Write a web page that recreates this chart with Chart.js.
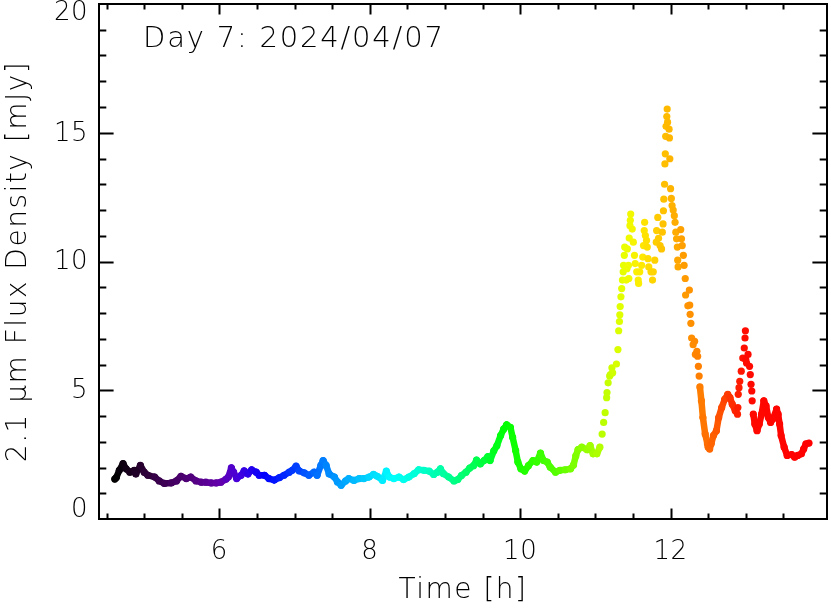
<!DOCTYPE html>
<html>
<head>
<meta charset="utf-8">
<script src="https://cdn.jsdelivr.net/npm/chart.js@4.4.1/dist/chart.umd.min.js"></script>
<style>
  html, body { margin: 0; padding: 0; background: #fff; }
  #wrap { width: 831px; height: 608px; }
</style>
</head>
<body>
<div id="wrap"><canvas id="chart"></canvas></div>
<script>
// time [h] and 2.1 micron flux density [mJy]
const times = [
  4.61, 4.63, 4.67, 4.72, 4.76, 4.81, 4.87, 4.89, 4.95, 5.00, 5.05, 5.14, 5.20, 5.27, 5.36, 5.43,
  5.49, 5.56, 5.62, 5.69, 5.76, 5.82, 5.89, 5.96, 6.02, 6.09, 6.12, 6.16, 6.19, 6.23, 6.29, 6.33,
  6.38, 6.43, 6.49, 6.53, 6.60, 6.66, 6.73, 6.80, 6.86, 6.93, 6.97, 7.02, 7.06, 7.13, 7.19, 7.26,
  7.30, 7.35, 7.38, 7.42, 7.46, 7.53, 7.57, 7.62, 7.68, 7.72, 7.79, 7.86, 7.92, 7.99, 8.05, 8.10,
  8.17, 8.22, 8.26, 8.32, 8.39, 8.45, 8.52, 8.59, 8.65, 8.72, 8.79, 8.85, 8.90, 8.94, 8.98, 9.05,
  9.12, 9.17, 9.22, 9.28, 9.33, 9.38, 9.42, 9.47, 9.52, 9.57, 9.60, 9.65, 9.69, 9.74, 9.78, 9.82,
  9.87, 9.90, 9.94, 9.97, 10.01, 10.06, 10.11, 10.17, 10.22, 10.27, 10.31, 10.36, 10.40, 10.47, 10.53, 10.60,
  10.67, 10.71, 10.74, 10.77, 10.82, 10.89, 10.93, 10.97, 11.02, 11.06, 11.09, 11.11, 11.13, 11.15, 11.155, 11.17,
  11.19, 11.20, 11.22, 11.23, 11.28, 11.30, 11.31, 11.32, 11.325, 11.33, 11.34, 11.35, 11.36, 11.37, 11.375, 11.385,
  11.39, 11.41, 11.42, 11.425, 11.44, 11.445, 11.45, 11.46, 11.465, 11.47, 11.49, 11.505, 11.52, 11.53, 11.55, 11.57,
  11.575, 11.59, 11.615, 11.63, 11.64, 11.65, 11.655, 11.665, 11.68, 11.69, 11.70, 11.71, 11.74, 11.76, 11.77, 11.79,
  11.81, 11.815, 11.83, 11.84, 11.86, 11.88, 11.89, 11.90, 11.905, 11.91, 11.92, 11.925, 11.93, 11.935, 11.94, 11.95,
  11.955, 11.96, 11.98, 11.985, 11.99, 12.00, 12.01, 12.02, 12.035, 12.05, 12.06, 12.07, 12.08, 12.09, 12.095, 12.10,
  12.135, 12.145, 12.155, 12.17, 12.18, 12.195, 12.20, 12.23, 12.25, 12.255, 12.26, 12.27, 12.28, 12.30, 12.32, 12.33,
  12.35, 12.36, 12.37, 12.38, 12.39, 12.41, 12.43, 12.46, 12.49, 12.50, 12.52, 12.54, 12.57, 12.61, 12.64, 12.68,
  12.72, 12.76, 12.79, 12.82, 12.86, 12.89, 12.895, 12.90, 12.91, 12.92, 12.94, 12.96, 12.98, 12.99, 12.995, 13.00,
  13.01, 13.03, 13.05, 13.06, 13.07, 13.08, 13.085, 13.10, 13.12, 13.15, 13.18, 13.21, 13.24, 13.27, 13.30, 13.33,
  13.36, 13.41, 13.43, 13.45, 13.47, 13.51, 13.55, 13.61, 13.65, 13.69, 13.74, 13.77, 13.80, 13.84
];
const flux = [
  1.55, 1.61, 1.89, 2.15, 1.95, 1.82, 1.89, 1.75, 2.08, 1.82, 1.70, 1.63, 1.48, 1.38, 1.40, 1.48,
  1.66, 1.57, 1.63, 1.48, 1.43, 1.43, 1.40, 1.40, 1.43, 1.55, 1.63, 1.99, 1.82, 1.57, 1.70, 1.87,
  1.75, 1.91, 1.82, 1.70, 1.70, 1.57, 1.51, 1.61, 1.70, 1.82, 1.89, 2.05, 1.87, 1.79, 1.70, 1.82,
  1.70, 2.08, 2.27, 2.08, 1.75, 1.63, 1.44, 1.31, 1.48, 1.57, 1.50, 1.57, 1.57, 1.63, 1.73, 1.66,
  1.50, 1.86, 1.63, 1.57, 1.63, 1.53, 1.63, 1.76, 1.91, 1.89, 1.86, 1.73, 1.82, 1.95, 1.76, 1.63,
  1.48, 1.53, 1.69, 1.82, 1.98, 2.07, 2.29, 2.14, 2.27, 2.42, 2.27, 2.65, 2.84, 3.24, 3.49, 3.66,
  3.56, 3.17, 2.66, 2.21, 1.95, 1.86, 2.07, 2.27, 2.21, 2.56, 2.27, 2.21, 2.01, 1.82, 1.89, 1.91,
  1.95, 2.10, 2.45, 2.70, 2.79, 2.69, 2.85, 2.53, 2.53, 2.79, 3.30, 3.75, 4.13, 4.71, 4.91, 5.29,
  5.55, 5.61, 5.87, 5.68, 6.02, 6.58, 7.31, 7.67, 7.93, 8.25, 8.63, 8.95, 9.28, 9.60, 9.85, 10.24,
  10.56, 9.28, 9.72, 10.49, 9.85, 9.34, 10.91, 11.39, 11.60, 11.84, 11.26, 10.75, 10.24, 9.92, 9.60, 9.28,
  9.15, 9.60, 9.85, 10.17, 10.62, 11.20, 11.52, 11.01, 10.82, 10.56, 10.11, 9.79, 9.60, 9.28, 9.60, 10.05,
  10.75, 11.20, 11.71, 10.90, 10.62, 10.49, 11.14, 11.46, 11.97, 12.42, 13.00, 13.79, 14.18, 14.86, 15.25, 15.63,
  15.92, 15.41, 15.14, 14.80, 13.99, 12.83, 12.45, 12.17, 12.00, 11.78, 11.52, 11.14, 10.88, 10.56, 10.05, 9.79,
  11.24, 10.88, 10.62, 10.24, 9.85, 9.34, 8.70, 8.28, 8.89, 8.31, 7.95, 7.60, 7.03, 6.77, 6.90, 6.39,
  6.51, 6.32, 5.93, 5.55, 5.13, 4.59, 3.94, 3.30, 2.92, 2.79, 2.72, 2.92, 3.24, 3.43, 3.94, 4.33,
  4.65, 4.84, 4.71, 4.46, 4.20, 4.07, 4.33, 4.84, 5.10, 5.35, 5.74, 6.25, 6.64, 7.03, 7.31, 6.19,
  6.06, 6.39, 5.93, 5.61, 5.23, 4.97, 4.59, 4.07, 3.69, 3.43, 3.69, 4.07, 4.59, 4.39, 3.94, 3.75,
  3.88, 4.27, 4.07, 3.69, 3.24, 2.79, 2.47, 2.50, 2.40, 2.47, 2.53, 2.72, 2.92, 2.95
];

const xTickLabels = [6, 8, 10, 12];
const yTickLabels = [0, 5, 10, 15, 20];
const dayLabel = 'Day 7: 2024/04/07';
const xTitle = 'Time [h]';
const yTitle = '2.1 \u03bcm Flux Density [mJy]';

// rainbow colour table, keyed on time
const colourStops = [
  [4.6, 0, 0, 0], [5.0, 45, 0, 55], [5.5, 75, 0, 110], [6.0, 100, 0, 170], [6.25, 70, 0, 220],
  [6.6, 0, 0, 255], [7.0, 0, 60, 255], [7.4, 0, 130, 255], [7.9, 0, 200, 255], [8.3, 0, 255, 255],
  [8.8, 0, 255, 190], [9.2, 0, 255, 120], [9.8, 0, 255, 0], [10.5, 90, 255, 0], [11.0, 170, 255, 0],
  [11.4, 235, 255, 0], [11.6, 255, 235, 0], [12.0, 255, 180, 0], [12.3, 255, 140, 0], [12.6, 255, 90, 0],
  [13.0, 255, 10, 0], [13.9, 255, 0, 0]
];

// time windows where the samples show as loose dots, not a solid trace
const dotWindows = [[11.08, 12.385], [12.885, 13.09]];

function colourAt(t) {
  if (t <= colourStops[0][0]) return 'rgb(0,0,0)';
  for (let i = 1; i < colourStops.length; i++) {
    const a = colourStops[i - 1], b = colourStops[i];
    if (t <= b[0]) {
      const f = (t - a[0]) / (b[0] - a[0]);
      const c = [1, 2, 3].map(k => Math.round(a[k] + f * (b[k] - a[k])));
      return 'rgb(' + c.join(',') + ')';
    }
  }
  return 'rgb(255,0,0)';
}

const FONT = '"DejaVu Sans", sans-serif';

const axesPlugin = {
  id: 'idlAxes',
  beforeDraw(chart) {
    chart.ctx.letterSpacing = '1.5px';
  },
  afterDraw(chart) {
    const ctx = chart.ctx;
    const { left, right, top, bottom } = chart.chartArea;
    const xs = chart.scales.x, ys = chart.scales.y;
    ctx.save();
    ctx.strokeStyle = '#000';
    ctx.lineWidth = 2;
    ctx.strokeRect(left, top, right - left, bottom - top);

    ctx.beginPath();
    for (let v = 4.5; v < 13.9; v += 0.5) {
      const px = Math.round(xs.getPixelForValue(v)) + 0.5;
      const len = xTickLabels.includes(v) ? 10.5 : 5.5;
      ctx.moveTo(px, bottom); ctx.lineTo(px, bottom - len);
      ctx.moveTo(px, top); ctx.lineTo(px, top + len);
    }
    for (let v = 1; v < 20; v++) {
      const py = Math.round(ys.getPixelForValue(v)) + 0.5;
      const len = yTickLabels.includes(v) ? 14.6 : 7.3;
      ctx.moveTo(left, py); ctx.lineTo(left + len, py);
      ctx.moveTo(right, py); ctx.lineTo(right - len, py);
    }
    ctx.stroke();

    ctx.fillStyle = '#000';
    ctx.letterSpacing = '0.5px';
    ctx.font = '300 26px ' + FONT;
    ctx.textAlign = 'center';
    ctx.textBaseline = 'middle';
    xTickLabels.forEach(v => ctx.fillText(String(v), xs.getPixelForValue(v), 552));
    ctx.textAlign = 'right';
    yTickLabels.forEach(v => {
      const py = Math.min(Math.max(ys.getPixelForValue(v) + 1, 13), 510);
      ctx.fillText(String(v), 88, py);
    });

    ctx.letterSpacing = '1.8px';
    ctx.font = '300 29px ' + FONT;
    ctx.textAlign = 'left';
    ctx.textBaseline = 'alphabetic';
    ctx.fillText(dayLabel, 143, 47);
    ctx.restore();
  }
};

function inDots(t0, t1) {
  return dotWindows.some(w => t1 > w[0] && t0 < w[1]);
}

new Chart(document.getElementById('chart'), {
  type: 'scatter',
  data: {
    datasets: [{
      data: times.map((t, i) => ({ x: t, y: flux[i] })),
      showLine: true,
      borderWidth: 6.5,
      borderCapStyle: 'round',
      borderJoinStyle: 'round',
      pointRadius: 3.6,
      pointBorderWidth: 0,
      pointBackgroundColor: ctx => colourAt(times[ctx.dataIndex]),
      segment: {
        borderColor: ctx => {
          const t0 = times[ctx.p0DataIndex], t1 = times[ctx.p1DataIndex];
          if (inDots(t0, t1)) return 'rgba(0,0,0,0)';
          const d = Math.hypot(ctx.p1.x - ctx.p0.x, ctx.p1.y - ctx.p0.y);
          if (d > 20) return 'rgba(0,0,0,0)';
          return colourAt(t0);
        }
      }
    }]
  },
  options: {
    responsive: true,
    maintainAspectRatio: false,
    animation: false,
    layout: { padding: { top: 1, right: 2, left: 0, bottom: 0 } },
    plugins: { legend: { display: false }, tooltip: { enabled: false } },
    scales: {
      x: {
        type: 'linear',
        min: 4.4,
        max: 14.08,
        grid: { display: false },
        border: { display: false },
        ticks: { display: false },
        title: {
          display: true, text: xTitle, color: '#000',
          font: { family: FONT, size: 28, weight: 300 },
          padding: { top: 2, bottom: 0 }
        },
        afterFit: s => { s.height = 89; }
      },
      y: {
        min: 0,
        max: 20,
        grid: { display: false },
        border: { display: false },
        ticks: { display: false },
        title: {
          display: true, text: yTitle, color: '#000',
          font: { family: FONT, size: 28, weight: 300 },
          padding: { top: 2, bottom: 0 }
        },
        afterFit: s => { s.width = 99; }
      }
    }
  },
  plugins: [axesPlugin]
});
</script>
</body>
</html>
